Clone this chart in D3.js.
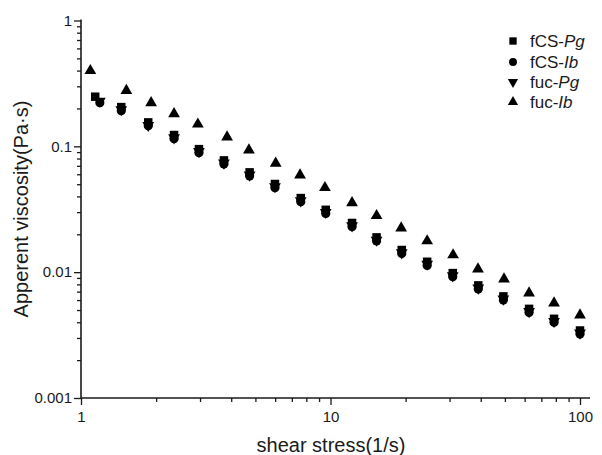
<!DOCTYPE html>
<html lang="en">
  <head>
    <meta charset="UTF-8" />
    <title>Apparent viscosity vs shear stress</title>
    <script src="https://cdn.jsdelivr.net/npm/d3@7"></script>
    <style>
      body { margin: 0; background: #fff; }
      svg { font-family: "Liberation Sans", Arial, sans-serif; }
    </style>
  </head>
  <body>
    <script>
      // series data
      const xPg = [1.14, 1.45, 1.86, 2.36, 2.97, 3.74, 4.74, 5.99, 7.6, 9.57, 12.2, 15.3, 19.3, 24.4, 30.9, 39.1, 49.3, 62.5, 78.7, 100];
      const xLower = [1.19, 1.45, 1.86, 2.36, 2.97, 3.74, 4.74, 5.99, 7.6, 9.57, 12.2, 15.3, 19.3, 24.4, 30.9, 39.1, 49.3, 62.5, 78.7, 100];
      const xUpper = [1.09, 1.52, 1.91, 2.36, 2.94, 3.85, 4.71, 6.03, 7.55, 9.5, 12.2, 15.3, 19.2, 24.4, 31.0, 39.0, 49.6, 62.5, 78.7, 100];

      const fcsPg = [0.248, 0.205, 0.155, 0.123, 0.095, 0.0773, 0.0621, 0.0502, 0.0388, 0.0313, 0.0246, 0.0189, 0.015, 0.0121, 0.00983, 0.00785, 0.00642, 0.00511, 0.00426, 0.00344];
      const fcsIb = [0.222, 0.192, 0.146, 0.115, 0.089, 0.0723, 0.0581, 0.0469, 0.0363, 0.0293, 0.023, 0.0177, 0.0141, 0.0113, 0.0092, 0.00734, 0.006, 0.00478, 0.00399, 0.00322];
      const fucPg = [0.229, 0.196, 0.147, 0.117, 0.091, 0.0738, 0.0592, 0.0479, 0.037, 0.0299, 0.0234, 0.018, 0.0143, 0.0116, 0.00938, 0.00749, 0.00613, 0.00488, 0.00407, 0.00329];
      const fucIb = [0.399, 0.277, 0.222, 0.181, 0.15, 0.1186, 0.0935, 0.0732, 0.0591, 0.0469, 0.0356, 0.0281, 0.0224, 0.0177, 0.0137, 0.0106, 0.0088, 0.00682, 0.00568, 0.00456];

      const xMajor = [1, 10, 100];
      const yMajor = [0.001, 0.01, 0.1, 1];

      const series = [
        { name: "fCS-", it: "Pg", xs: xPg, ys: fcsPg, shape: "square" },
        { name: "fCS-", it: "Ib", xs: xLower, ys: fcsIb, shape: "circle" },
        { name: "fuc-", it: "Pg", xs: xLower, ys: fucPg, shape: "down" },
        { name: "fuc-", it: "Ib", xs: xUpper, ys: fucIb, shape: "up" },
      ];

      const width = 602;
      const height = 455;

      const x = d3.scaleLog().domain([1, 100]).range([81, 580]);
      const y = d3.scaleLog().domain([0.001, 1]).range([398, 20.5]);

      // minor ticks 2..9 in each decade
      const minor = (lo, hi) => {
        const out = [];
        for (let d = lo; d < hi; d *= 10) {
          for (let k = 2; k < 10; k++) out.push(+(d * k).toPrecision(3));
        }
        return out;
      };

      const svg = d3
        .select("body")
        .append("svg")
        .attr("width", width)
        .attr("height", height);

      const ink = "#1a1a1a";

      // x axis
      const gx = svg.append("g").attr("transform", "translate(0,398)");
      gx.call(d3.axisBottom(x).tickValues(minor(1, 100)).tickSize(4).tickFormat(""));
      gx.call((g) =>
        g.append("g").call(
          d3.axisBottom(x).tickValues(xMajor).tickSize(7).tickPadding(6).tickFormat((d) => String(d))
        )
      );
      gx.selectAll(".domain").remove();
      gx.append("line").attr("x1", 81).attr("x2", 590).attr("stroke", ink).attr("stroke-width", 1.6);

      // y axis
      const gy = svg.append("g").attr("transform", "translate(81,0)");
      gy.call(d3.axisLeft(y).tickValues(minor(0.001, 1)).tickSize(4).tickFormat(""));
      gy.call((g) =>
        g.append("g").call(
          d3.axisLeft(y).tickValues(yMajor).tickSize(7).tickPadding(2).tickFormat((d) => String(d))
        )
      );
      gy.selectAll(".domain").remove();
      gy.append("line").attr("y1", 19.5).attr("y2", 398).attr("stroke", ink).attr("stroke-width", 1.6);

      svg.selectAll(".tick line").attr("stroke", ink).attr("stroke-width", 1.3);
      svg
        .selectAll(".tick text")
        .attr("fill", ink)
        .style("font-size", "15px")
        .style("font-family", '"Liberation Sans", Arial, sans-serif');

      // axis titles
      svg
        .append("text")
        .attr("x", 331)
        .attr("y", 452)
        .attr("text-anchor", "middle")
        .attr("fill", ink)
        .style("font-size", "20px")
        .text("shear stress(1/s)");

      svg
        .append("text")
        .attr("transform", "translate(28,209) rotate(-90)")
        .attr("text-anchor", "middle")
        .attr("fill", ink)
        .style("font-size", "20px")
        .text("Apperent viscosity(Pa·s)");

      const symbolFor = (shape, scale) => {
        const s = scale || 1;
        if (shape === "square") return d3.symbol(d3.symbolSquare, 72 * s)();
        if (shape === "circle") return d3.symbol(d3.symbolCircle, 66 * s)();
        return d3.symbol(d3.symbolTriangle, 60 * s)();
      };

      // points
      series.forEach((s) => {
        svg
          .append("g")
          .selectAll("path")
          .data(s.ys.map((v, i) => [s.xs[i], v]))
          .join("path")
          .attr("d", symbolFor(s.shape))
          .attr("fill", "#000")
          .attr("transform", (d) => {
            const t = `translate(${x(d[0])},${y(d[1])})`;
            return s.shape === "down" ? t + " rotate(180)" : t;
          });
      });

      // legend
      const legend = svg.append("g");
      const rowY = [41, 62, 82, 102];
      series.forEach((s, i) => {
        legend
          .append("path")
          .attr("d", symbolFor(s.shape, 0.75))
          .attr("fill", "#000")
          .attr("transform", `translate(513,${rowY[i]})${s.shape === "down" ? " rotate(180)" : ""}`);
        const t = legend
          .append("text")
          .attr("x", 530)
          .attr("y", rowY[i] + 6)
          .attr("fill", ink)
          .style("font-size", "17px");
        t.append("tspan").text(s.name);
        t.append("tspan").style("font-style", "italic").text(s.it);
      });
    </script>
  </body>
</html>
